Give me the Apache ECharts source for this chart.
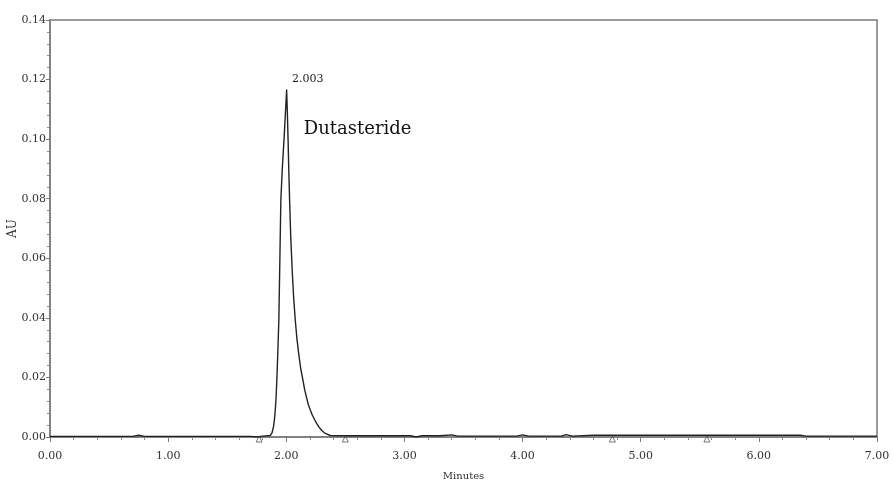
<!DOCTYPE html>
<html>
<head>
<meta charset="utf-8">
<script src="https://cdn.jsdelivr.net/npm/echarts@6/dist/echarts.min.js"></script>
<style>
html,body{margin:0;padding:0;background:#fff;}
#chart{width:893px;height:483px;}
</style>
</head>
<body>
<div id="chart"></div>
<script>
// Retention time (minutes) and absorbance (AU)
var timeMin = [0.00, 0.70, 0.75, 0.80, 1.70, 1.75, 1.80, 1.864, 1.880, 1.892, 1.900, 1.907, 1.914, 1.920, 1.928, 1.937, 1.945, 1.954, 1.966, 1.981, 1.993, 2.003, 2.009, 2.015, 2.021, 2.028, 2.038, 2.050, 2.062, 2.076, 2.090, 2.105, 2.122, 2.141, 2.155, 2.170, 2.186, 2.203, 2.220, 2.240, 2.257, 2.274, 2.300, 2.330, 2.373, 2.50, 3.05, 3.10, 3.15, 3.30, 3.40, 3.45, 3.95, 4.00, 4.05, 4.33, 4.37, 4.42, 4.60, 6.35, 6.40, 7.00];
var absorbanceAU = [0.0002, 0.0002, 0.0006, 0.0002, 0.0002, 0.0000, 0.0003, 0.0005, 0.0015, 0.0035, 0.0060, 0.0091, 0.0135, 0.0191, 0.0280, 0.0393, 0.0580, 0.0796, 0.0900, 0.1000, 0.1090, 0.1165, 0.1090, 0.1000, 0.0900, 0.0796, 0.0670, 0.0560, 0.0470, 0.0393, 0.0330, 0.0280, 0.0230, 0.0191, 0.0160, 0.0135, 0.0110, 0.0091, 0.0074, 0.0058, 0.0046, 0.0035, 0.0022, 0.0012, 0.0005, 0.0004, 0.0004, 0.0000, 0.0004, 0.0004, 0.0007, 0.0003, 0.0003, 0.0007, 0.0003, 0.0003, 0.0008, 0.0003, 0.0006, 0.0006, 0.0003, 0.0003];
// Integration markers along the baseline
var markerTimes = [1.77, 2.50, 4.76, 5.56];
var markerAU = [0, 0, 0, 0];
// Peak annotation
var peakTime = [2.003];
var peakAU = [0.1165];
var peakLabels = ['2.003'];
var compoundNames = ['Dutasteride'];
// Axis
var xTicks = [0, 1, 2, 3, 4, 5, 6, 7];
var yTicks = [0, 0.02, 0.04, 0.06, 0.08, 0.10, 0.12, 0.14];
var xAxisTitle = 'Minutes';
var yAxisTitle = 'AU';

var serif = 'DejaVu Serif';
var lineData = timeMin.map(function (t, i) { return [t, absorbanceAU[i]]; });
var markerData = markerTimes.map(function (t, i) { return [t, markerAU[i]]; });

var chart = echarts.init(document.getElementById('chart'), null, {renderer: 'canvas'});
chart.setOption({
  animation: false,
  backgroundColor: '#ffffff',
  grid: {
    left: 50, right: 16, top: 20, bottom: 46,
    outerBoundsMode: 'none',
    containLabel: false,
    show: true, borderColor: '#7a7a7a', borderWidth: 1.5, backgroundColor: 'transparent'
  },
  xAxis: {
    type: 'value',
    min: xTicks[0], max: xTicks[xTicks.length - 1], interval: 1,
    offset: 4,
    name: xAxisTitle, nameLocation: 'middle', nameGap: 30,
    nameMoveOverlap: false,
    nameTextStyle: {fontFamily: serif, fontSize: 10, color: '#333'},
    axisLine: {show: true, lineStyle: {color: '#7a7a7a', width: 1.5}},
    axisTick: {show: true, inside: false, length: 5, lineStyle: {color: '#777'}},
    minorTick: {show: true, splitNumber: 5, length: 3, lineStyle: {color: '#888'}},
    splitLine: {show: false},
    axisLabel: {
      margin: 10, fontFamily: serif, fontSize: 11, color: '#333',
      formatter: function (v) { return v.toFixed(2); }
    }
  },
  yAxis: {
    type: 'value',
    min: yTicks[0], max: yTicks[yTicks.length - 1], interval: 0.02,
    name: yAxisTitle, nameLocation: 'middle', nameGap: 31, nameRotate: 90,
    nameMoveOverlap: false,
    nameTextStyle: {fontFamily: serif, fontSize: 12, color: '#333'},
    axisLine: {show: true, lineStyle: {color: '#7a7a7a', width: 1.5}},
    axisTick: {show: true, inside: false, length: 4, lineStyle: {color: '#777'}},
    minorTick: {show: true, splitNumber: 5, length: 3, lineStyle: {color: '#888'}},
    splitLine: {show: false},
    axisLabel: {
      margin: 4, fontFamily: serif, fontSize: 11, color: '#333',
      formatter: function (v) { return v.toFixed(2); }
    }
  },
  series: [
    {
      type: 'line',
      data: lineData,
      showSymbol: false,
      symbol: 'none',
      lineStyle: {color: '#222', width: 1.4, join: 'round'},
      z: 3,
      markPoint: {
        symbol: 'circle', symbolSize: 0,
        silent: true,
        data: [
          {
            coord: [peakTime[0], peakAU[0]],
            label: {
              show: true, formatter: peakLabels[0], position: 'inside',
              offset: [21, -11], fontFamily: serif, fontSize: 11, color: '#222'
            }
          },
          {
            coord: [peakTime[0], peakAU[0]],
            label: {
              show: true, formatter: compoundNames[0], position: 'inside',
              offset: [71, 39], fontFamily: serif, fontSize: 18, color: '#111'
            }
          }
        ]
      }
    },
    {
      type: 'scatter',
      data: markerData,
      symbol: 'triangle',
      symbolSize: [6, 6],
      symbolOffset: [0, 2],
      itemStyle: {color: 'rgba(0,0,0,0)', borderColor: '#555', borderWidth: 1},
      silent: true,
      z: 2
    }
  ]
});
</script>
</body>
</html>
